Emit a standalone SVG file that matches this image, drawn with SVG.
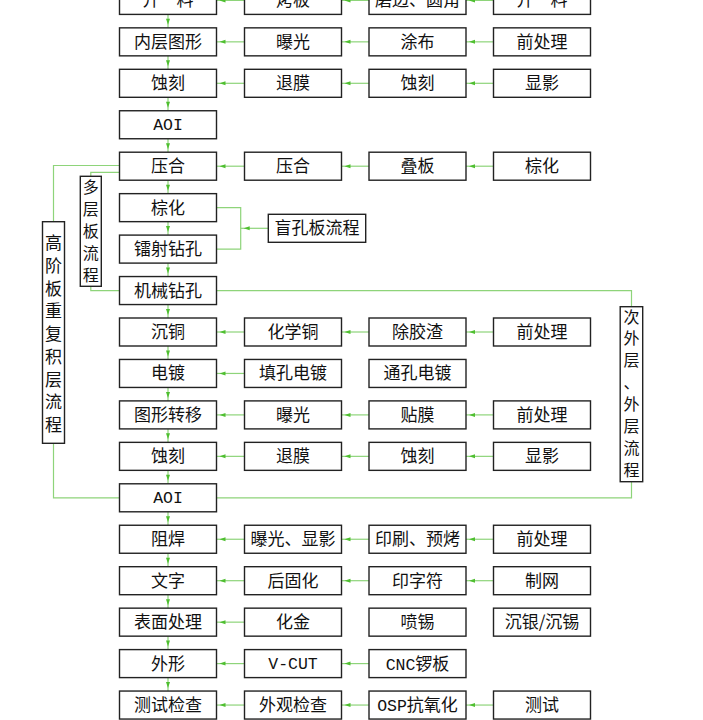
<svg xmlns="http://www.w3.org/2000/svg" width="703" height="720" viewBox="0 0 703 720">
<style>
.b{fill:#fff;stroke:#222;stroke-width:1.4}
.t{font-family:"Noto Sans CJK SC","Liberation Sans",sans-serif;font-size:17px;fill:#111;text-anchor:middle}
.m{font-family:"Liberation Mono",monospace;font-size:16.5px}
.v{font-size:16px}
.c{fill:none;stroke:#8ed47a;stroke-width:1.2}
.a{marker-end:url(#ar)}
</style>
<defs>
<marker id="ar" viewBox="0 0 6 4" refX="9" refY="2" markerWidth="6" markerHeight="4" markerUnits="userSpaceOnUse" orient="auto" overflow="visible">
<path d="M0,0 L6,2 L0,4 z" fill="#4fbf30"/>
</marker>
</defs>
<rect width="703" height="720" fill="#fff"/>
<g id="connectors">
<path class="c a" d="M168,14.4V27.85"/>
<path class="c a" d="M168,55.85V69.3"/>
<path class="c a" d="M168,97.3V110.75"/>
<path class="c a" d="M168,138.75V152.2"/>
<path class="c a" d="M168,180.2V193.65"/>
<path class="c a" d="M168,221.65V235.1"/>
<path class="c a" d="M168,263.1V276.55"/>
<path class="c a" d="M168,304.55V318"/>
<path class="c a" d="M168,346V359.45"/>
<path class="c a" d="M168,387.45V400.9"/>
<path class="c a" d="M168,428.9V442.35"/>
<path class="c a" d="M168,470.35V483.8"/>
<path class="c a" d="M168,511.8V525.25"/>
<path class="c a" d="M168,553.25V566.7"/>
<path class="c a" d="M168,594.7V608.15"/>
<path class="c a" d="M168,636.15V649.6"/>
<path class="c a" d="M168,677.6V691.05"/>
<path class="c a" d="M244.5,0.4H216.5"/><path class="c a" d="M369,0.4H341.5"/><path class="c a" d="M493.5,0.4H466"/>
<path class="c a" d="M244.5,41.85H216.5"/><path class="c a" d="M369,41.85H341.5"/><path class="c a" d="M493.5,41.85H466"/>
<path class="c a" d="M244.5,83.3H216.5"/><path class="c a" d="M369,83.3H341.5"/><path class="c a" d="M493.5,83.3H466"/>
<path class="c a" d="M244.5,166.2H216.5"/><path class="c a" d="M369,166.2H341.5"/><path class="c a" d="M493.5,166.2H466"/>
<path class="c a" d="M244.5,332H216.5"/><path class="c a" d="M369,332H341.5"/><path class="c a" d="M493.5,332H466"/>
<path class="c a" d="M244.5,373.45H216.5"/>
<path class="c a" d="M244.5,414.9H216.5"/><path class="c a" d="M369,414.9H341.5"/><path class="c a" d="M493.5,414.9H466"/>
<path class="c a" d="M244.5,456.35H216.5"/><path class="c a" d="M369,456.35H341.5"/><path class="c a" d="M493.5,456.35H466"/>
<path class="c a" d="M244.5,539.25H216.5"/><path class="c a" d="M369,539.25H341.5"/><path class="c a" d="M493.5,539.25H466"/>
<path class="c a" d="M244.5,580.7H216.5"/><path class="c a" d="M369,580.7H341.5"/><path class="c a" d="M493.5,580.7H466"/>
<path class="c a" d="M244.5,622.15H216.5"/>
<path class="c a" d="M244.5,663.6H216.5"/><path class="c a" d="M369,663.6H341.5"/>
<path class="c a" d="M244.5,705.05H216.5"/><path class="c a" d="M369,705.05H341.5"/><path class="c a" d="M493.5,705.05H466"/>
<path class="c" d="M216.5,207.65H240.7V249.1H216.5"/>
<path class="c a" d="M268.3,228.3H240.7"/>
<path class="c" d="M119.5,165.5H53.5V221.7"/>
<path class="c" d="M53.5,443.3V497.8H119.5"/>
<path class="c" d="M119.5,172.3H90.8V176.3"/>
<path class="c" d="M90.8,286.3V290.55H119.5"/>
<path class="c" d="M216.5,290.55H631.5V306.7"/>
<path class="c" d="M631.5,481.7V497.8H216.5"/>
</g>
<g id="n0a"><rect class="b" x="119.5" y="-13.6" width="97" height="28"/><text class="t" x="168" y="6.4">开　料</text></g>
<g id="n0b"><rect class="b" x="244.5" y="-13.6" width="97" height="28"/><text class="t" x="293" y="6.4">烤板</text></g>
<g id="n0c"><rect class="b" x="369" y="-13.6" width="97" height="28"/><text class="t" x="417.5" y="6.4">磨边、圆角</text></g>
<g id="n0d"><rect class="b" x="493.5" y="-13.6" width="97" height="28"/><text class="t" x="542" y="6.4">开　料</text></g>
<g id="n1a"><rect class="b" x="119.5" y="27.85" width="97" height="28"/><text class="t" x="168" y="47.85">内层图形</text></g>
<g id="n1b"><rect class="b" x="244.5" y="27.85" width="97" height="28"/><text class="t" x="293" y="47.85">曝光</text></g>
<g id="n1c"><rect class="b" x="369" y="27.85" width="97" height="28"/><text class="t" x="417.5" y="47.85">涂布</text></g>
<g id="n1d"><rect class="b" x="493.5" y="27.85" width="97" height="28"/><text class="t" x="542" y="47.85">前处理</text></g>
<g id="n2a"><rect class="b" x="119.5" y="69.3" width="97" height="28"/><text class="t" x="168" y="89.3">蚀刻</text></g>
<g id="n2b"><rect class="b" x="244.5" y="69.3" width="97" height="28"/><text class="t" x="293" y="89.3">退膜</text></g>
<g id="n2c"><rect class="b" x="369" y="69.3" width="97" height="28"/><text class="t" x="417.5" y="89.3">蚀刻</text></g>
<g id="n2d"><rect class="b" x="493.5" y="69.3" width="97" height="28"/><text class="t" x="542" y="89.3">显影</text></g>
<g id="n3a"><rect class="b" x="119.5" y="110.75" width="97" height="28"/><text class="t m" x="168" y="130.3">AOI</text></g>
<g id="n4a"><rect class="b" x="119.5" y="152.2" width="97" height="28"/><text class="t" x="168" y="172.2">压合</text></g>
<g id="n4b"><rect class="b" x="244.5" y="152.2" width="97" height="28"/><text class="t" x="293" y="172.2">压合</text></g>
<g id="n4c"><rect class="b" x="369" y="152.2" width="97" height="28"/><text class="t" x="417.5" y="172.2">叠板</text></g>
<g id="n4d"><rect class="b" x="493.5" y="152.2" width="97" height="28"/><text class="t" x="542" y="172.2">棕化</text></g>
<g id="n5a"><rect class="b" x="119.5" y="193.65" width="97" height="28"/><text class="t" x="168" y="213.65">棕化</text></g>
<g id="n6a"><rect class="b" x="119.5" y="235.1" width="97" height="28"/><text class="t" x="168" y="255.1">镭射钻孔</text></g>
<g id="nblind"><rect class="b" x="268.3" y="214.3" width="97.4" height="28"/><text class="t" x="317" y="234.3">盲孔板流程</text></g>
<g id="n7a"><rect class="b" x="119.5" y="276.55" width="97" height="28"/><text class="t" x="168" y="296.55">机械钻孔</text></g>
<g id="n8a"><rect class="b" x="119.5" y="318" width="97" height="28"/><text class="t" x="168" y="338">沉铜</text></g>
<g id="n8b"><rect class="b" x="244.5" y="318" width="97" height="28"/><text class="t" x="293" y="338">化学铜</text></g>
<g id="n8c"><rect class="b" x="369" y="318" width="97" height="28"/><text class="t" x="417.5" y="338">除胶渣</text></g>
<g id="n8d"><rect class="b" x="493.5" y="318" width="97" height="28"/><text class="t" x="542" y="338">前处理</text></g>
<g id="n9a"><rect class="b" x="119.5" y="359.45" width="97" height="28"/><text class="t" x="168" y="379.45">电镀</text></g>
<g id="n9b"><rect class="b" x="244.5" y="359.45" width="97" height="28"/><text class="t" x="293" y="379.45">填孔电镀</text></g>
<g id="n9c"><rect class="b" x="369" y="359.45" width="97" height="28"/><text class="t" x="417.5" y="379.45">通孔电镀</text></g>
<g id="n10a"><rect class="b" x="119.5" y="400.9" width="97" height="28"/><text class="t" x="168" y="420.9">图形转移</text></g>
<g id="n10b"><rect class="b" x="244.5" y="400.9" width="97" height="28"/><text class="t" x="293" y="420.9">曝光</text></g>
<g id="n10c"><rect class="b" x="369" y="400.9" width="97" height="28"/><text class="t" x="417.5" y="420.9">贴膜</text></g>
<g id="n10d"><rect class="b" x="493.5" y="400.9" width="97" height="28"/><text class="t" x="542" y="420.9">前处理</text></g>
<g id="n11a"><rect class="b" x="119.5" y="442.35" width="97" height="28"/><text class="t" x="168" y="462.35">蚀刻</text></g>
<g id="n11b"><rect class="b" x="244.5" y="442.35" width="97" height="28"/><text class="t" x="293" y="462.35">退膜</text></g>
<g id="n11c"><rect class="b" x="369" y="442.35" width="97" height="28"/><text class="t" x="417.5" y="462.35">蚀刻</text></g>
<g id="n11d"><rect class="b" x="493.5" y="442.35" width="97" height="28"/><text class="t" x="542" y="462.35">显影</text></g>
<g id="n12a"><rect class="b" x="119.5" y="483.8" width="97" height="28"/><text class="t m" x="168" y="503.3">AOI</text></g>
<g id="n13a"><rect class="b" x="119.5" y="525.25" width="97" height="28"/><text class="t" x="168" y="545.25">阻焊</text></g>
<g id="n13b"><rect class="b" x="244.5" y="525.25" width="97" height="28"/><text class="t" x="293" y="545.25">曝光、显影</text></g>
<g id="n13c"><rect class="b" x="369" y="525.25" width="97" height="28"/><text class="t" x="417.5" y="545.25">印刷、预烤</text></g>
<g id="n13d"><rect class="b" x="493.5" y="525.25" width="97" height="28"/><text class="t" x="542" y="545.25">前处理</text></g>
<g id="n14a"><rect class="b" x="119.5" y="566.7" width="97" height="28"/><text class="t" x="168" y="586.7">文字</text></g>
<g id="n14b"><rect class="b" x="244.5" y="566.7" width="97" height="28"/><text class="t" x="293" y="586.7">后固化</text></g>
<g id="n14c"><rect class="b" x="369" y="566.7" width="97" height="28"/><text class="t" x="417.5" y="586.7">印字符</text></g>
<g id="n14d"><rect class="b" x="493.5" y="566.7" width="97" height="28"/><text class="t" x="542" y="586.7">制网</text></g>
<g id="n15a"><rect class="b" x="119.5" y="608.15" width="97" height="28"/><text class="t" x="168" y="628.15">表面处理</text></g>
<g id="n15b"><rect class="b" x="244.5" y="608.15" width="97" height="28"/><text class="t" x="293" y="628.15">化金</text></g>
<g id="n15c"><rect class="b" x="369" y="608.15" width="97" height="28"/><text class="t" x="417.5" y="628.15">喷锡</text></g>
<g id="n15d"><rect class="b" x="493.5" y="608.15" width="97" height="28"/><text class="t" x="542" y="628.15">沉银/沉锡</text></g>
<g id="n16a"><rect class="b" x="119.5" y="649.6" width="97" height="28"/><text class="t" x="168" y="669.6">外形</text></g>
<g id="n16b"><rect class="b" x="244.5" y="649.6" width="97" height="28"/><text class="t m" x="293" y="669.1">V-CUT</text></g>
<g id="n16c"><rect class="b" x="369" y="649.6" width="97" height="28"/><text class="t" x="417.5" y="669.6"><tspan class="m">CNC</tspan>锣板</text></g>
<g id="n17a"><rect class="b" x="119.5" y="691.05" width="97" height="28"/><text class="t" x="168" y="711.05">测试检查</text></g>
<g id="n17b"><rect class="b" x="244.5" y="691.05" width="97" height="28"/><text class="t" x="293" y="711.05">外观检查</text></g>
<g id="n17c"><rect class="b" x="369" y="691.05" width="97" height="28"/><text class="t" x="417.5" y="711.05"><tspan class="m">OSP</tspan>抗氧化</text></g>
<g id="n17d"><rect class="b" x="493.5" y="691.05" width="97" height="28"/><text class="t" x="542" y="711.05">测试</text></g>
<g id="lblMulti"><rect class="b" x="80.3" y="176.3" width="21" height="110"/>
<text class="t v" x="90.8"><tspan x="90.8" y="192.6">多</tspan><tspan x="90.8" y="214.6">层</tspan><tspan x="90.8" y="236.6">板</tspan><tspan x="90.8" y="258.6">流</tspan><tspan x="90.8" y="280.6">程</tspan></text></g>
<g id="lblHigh"><rect class="b" x="42.5" y="221.7" width="22" height="221.6"/>
<text class="t" x="53.5"><tspan x="53.5" y="249.3">高</tspan><tspan x="53.5" y="272">阶</tspan><tspan x="53.5" y="294.7">板</tspan><tspan x="53.5" y="317.4">重</tspan><tspan x="53.5" y="340.1">复</tspan><tspan x="53.5" y="362.8">积</tspan><tspan x="53.5" y="385.5">层</tspan><tspan x="53.5" y="408.2">流</tspan><tspan x="53.5" y="430.9">程</tspan></text></g>
<g id="lblOuter"><rect class="b" x="620.2" y="306.7" width="22.5" height="175"/>
<text class="t v" x="631.5"><tspan x="631.5" y="322.5">次</tspan><tspan x="631.5" y="344.4">外</tspan><tspan x="631.5" y="366.3">层</tspan><tspan x="631.5" y="388.2">、</tspan><tspan x="631.5" y="410.1">外</tspan><tspan x="631.5" y="432">层</tspan><tspan x="631.5" y="453.9">流</tspan><tspan x="631.5" y="475.8">程</tspan></text></g>
</svg>
